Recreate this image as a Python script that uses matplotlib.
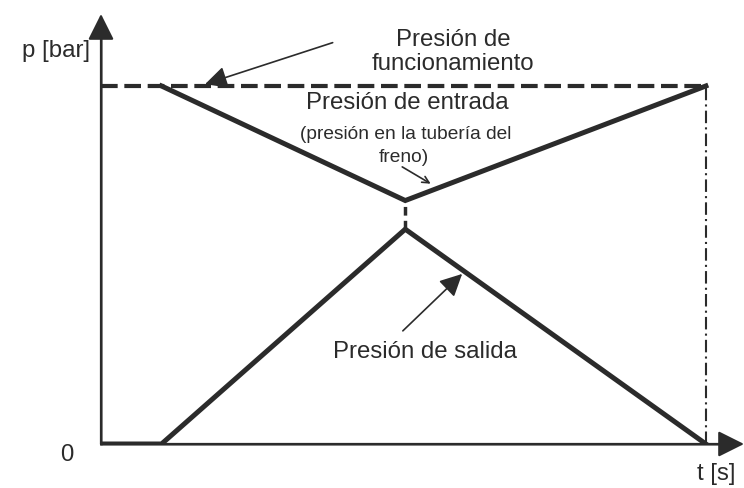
import matplotlib.pyplot as plt

plt.rcParams['font.family'] = ['Liberation Sans', 'DejaVu Sans']

# time points: axis origin, start of braking, crossing point, end
t = [0, 1.0, 5.03, 10.0]
# pressures (relative, operating pressure = 10)
p_func = 10.0
p_in = [10.0, 10.0, 6.8, 10.0]
p_out = [0.0, 0.0, 6.0, 0.0]

ink = '#2b2b2b'
axis_col = '#6a6a6a'

fig = plt.figure(figsize=(7.44, 4.89), dpi=100)
# axes span from the y-axis (x=101px) to the arrow tips
ax = fig.add_axes([101 / 744, 44 / 489, 643 / 744, 430 / 489])
ax.set_xlim(0, 10.63)
ax.set_ylim(0, 12.01)
ax.axis('off')

# coordinate axes with arrow heads
ax.annotate('', xy=(10.63, 0), xytext=(0, 0),
            arrowprops=dict(arrowstyle='-|>', color=ink, lw=1.6,
                            mutation_scale=40, shrinkA=0, shrinkB=0),
            annotation_clip=False)
ax.annotate('', xy=(0, 12.01), xytext=(0, 0),
            arrowprops=dict(arrowstyle='-|>', color=ink, lw=1.6,
                            mutation_scale=40, shrinkA=0, shrinkB=0),
            annotation_clip=False)
# redraw the axis shafts in grey
ax.plot([0, 10.3], [0, 0], color=axis_col, lw=1.8, clip_on=False)
ax.plot([0, 0], [0, 11.6], color=axis_col, lw=1.8, clip_on=False)

# operating pressure (dashed)
ax.plot([0, t[3]], [p_func, p_func], color=ink, lw=3, ls=(0, (4, 1.6)))
# inlet and outlet pressure
ax.plot(t[1:], p_in[1:], color=ink, lw=3.6, solid_joinstyle='miter')
ax.plot(t, p_out, color=ink, lw=3.6, solid_joinstyle='miter')
# dashed link between the two curves
ax.plot([t[2], t[2]], [p_out[2], p_in[2]], color=ink, lw=2.5, ls=(0, (2.5, 1.5)))
# end of braking (dash-dot)
ax.plot([t[3], t[3]], [0, p_func], color=ink, lw=1.5, ls=(0, (6, 2, 1, 2)))

# labels
fs = 17.3
ax.text(-0.75, 11.0, 'p [bar]', fontsize=fs, color=ink, ha='center', va='center')
ax.text(-0.56, -0.28, '0', fontsize=fs, color=ink, ha='center', va='center')
ax.text(10.17, -0.8, 't [s]', fontsize=fs, color=ink, ha='center', va='center')

ax.text(5.82, 10.98, 'Presión de\nfuncionamiento', fontsize=fs, color=ink,
        ha='center', va='center', linespacing=1.12)
ax.annotate('', xy=(1.72, 10.05), xytext=(3.83, 11.21),
            arrowprops=dict(arrowstyle='-|>', color=ink, lw=1.2,
                            mutation_scale=34, shrinkA=0, shrinkB=0))

ax.text(5.06, 9.56, 'Presión de entrada', fontsize=fs, color=ink,
        ha='center', va='center')
ax.text(5.03, 8.66, '(presión en la tubería del', fontsize=13.8, color=ink,
        ha='center', va='center')
ax.text(5.0, 8.02, 'freno)', fontsize=13.8, color=ink, ha='center', va='center')
ax.annotate('', xy=(5.45, 7.27), xytext=(4.98, 7.74),
            arrowprops=dict(arrowstyle='->', color=ink, lw=1.2,
                            mutation_scale=12, shrinkA=0, shrinkB=0))

ax.text(5.36, 2.60, 'Presión de salida', fontsize=fs, color=ink,
        ha='center', va='center')
ax.annotate('', xy=(5.97, 4.75), xytext=(4.99, 3.16),
            arrowprops=dict(arrowstyle='-|>', color=ink, lw=1.2,
                            mutation_scale=34, shrinkA=0, shrinkB=0))

fig.savefig('out.png', dpi=100)
